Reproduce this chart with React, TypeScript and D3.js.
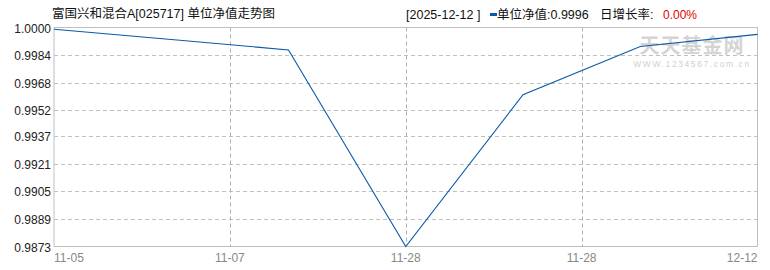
import React from "react";
import * as d3 from "d3";

const dates = ["11-05", "11-06", "11-07", "11-28", "12-03", "12-08", "12-12"];
const navValues = [0.9999, 0.9993, 0.9987, 0.9873, 0.9961, 0.9989, 0.9996];
const yTicks = [1.0, 0.9984, 0.9968, 0.9952, 0.9937, 0.9921, 0.9905, 0.9889, 0.9873];
const xTickLabels = ["11-05", "11-07", "11-28", "11-28", "12-12"];
const xTickPos = [0, 1.5, 3, 4.5, 6];

const W = 770, H = 270;
const left = 54, right = 757.5, top = 27.5, bottom = 246.5;
const font = "'Liberation Sans', 'Noto Sans CJK SC', sans-serif";

export default function App() {
  const x = d3.scaleLinear().domain([0, dates.length - 1]).range([left, right]);
  const y = d3.scaleLinear().domain([0.9873, 1.0]).range([bottom, top]);
  const line = d3.line<number>().x((_, i) => x(i)).y((d) => y(d));
  return (
    <svg width={W} height={H} style={{ position: "absolute", left: 0, top: 0, background: "#fff" }}>
      <rect x={0} y={0} width={W} height={H} fill="#fff" />
      {/* grid */}
      {yTicks.slice(1, -1).map((t, i) => (
        <line key={"gy" + i} x1={left} x2={right} y1={Math.round(y(t)) + 0.5} y2={Math.round(y(t)) + 0.5}
          stroke="#c0c0c0" strokeDasharray="4,3" />
      ))}
      {xTickPos.slice(1, -1).map((p, i) => (
        <line key={"gx" + i} x1={Math.round(x(p)) + 0.5} x2={Math.round(x(p)) + 0.5} y1={top} y2={bottom}
          stroke="#b0b0b0" strokeDasharray="4,3" />
      ))}
      <rect x={left} y={top} width={right - left} height={bottom - top} fill="none" stroke="#c0c0c0" />
      {/* watermark */}
      <text x={692} y={53} textAnchor="middle" fontFamily="'Noto Sans CJK SC', sans-serif" fontWeight="bold"
        fontSize={20} fill="#d4d4d4" letterSpacing={1}>天天基金网</text>
      <text x={692} y={67} textAnchor="middle" fontFamily={font} fontSize={8.5} fill="#cfcfcf" letterSpacing={1.6}>WWW.1234567.com.cn</text>
      {/* line */}
      <path d={line(navValues) || ""} fill="none" stroke="#0a5aa8" strokeWidth={1.1} />
      {/* y labels */}
      {yTicks.map((t, i) => (
        <text key={"yl" + i} x={51} y={y(t) + 5} textAnchor="end" fontFamily={font} fontSize={12} fill="#222">
          {t.toFixed(4)}
        </text>
      ))}
      {/* x labels */}
      {xTickLabels.map((l, i) => (
        <text key={"xl" + i} x={x(xTickPos[i])} y={262}
          textAnchor={i === 0 ? "start" : i === xTickLabels.length - 1 ? "end" : "middle"}
          fontFamily={font} fontSize={12} fill="#888">{l}</text>
      ))}
      {/* title */}
      <text x={52} y={18} fontFamily={font} fontSize={12.5} fill="#111">富国兴和混合A[025717] 单位净值走势图</text>
      <text x={406} y={19} fontFamily={font} fontSize={12.5} fill="#111">[2025-12-12 ]</text>
      <rect x={490} y={13} width={7} height={3} fill="#0a5aa8" />
      <text x={497} y={19} fontFamily={font} fontSize={12.5} fill="#111">单位净值:0.9996</text>
      <text x={600} y={19} fontFamily={font} fontSize={12.5} fill="#111">日增长率:</text>
      <text x={663} y={19} fontFamily={font} fontSize={12} fill="#e00000">0.00%</text>
    </svg>
  );
}
